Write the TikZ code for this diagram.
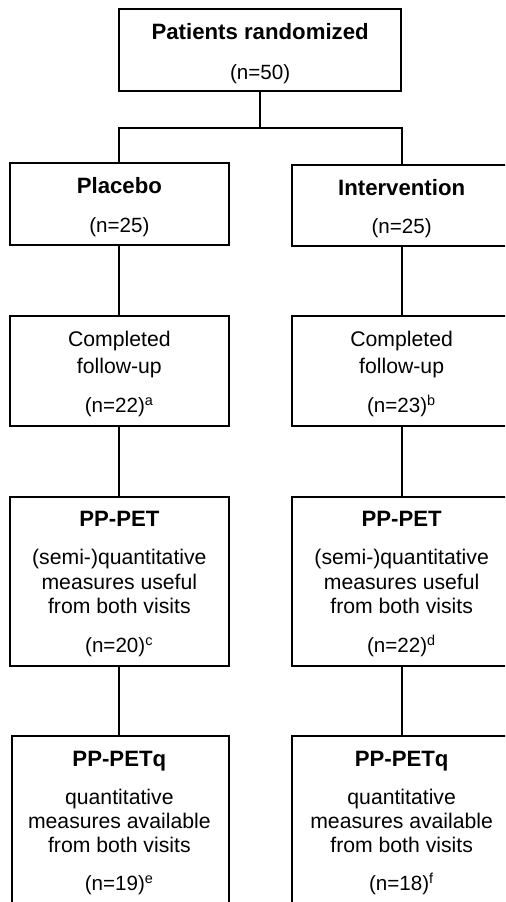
\documentclass[tikz,border=0pt]{standalone}
\usepackage{fontspec}
\setmainfont{Liberation Sans}
\begin{document}
\begin{tikzpicture}[x=0.5pt,y=-0.5pt,
  box/.style={draw, line width=1pt, inner sep=0pt, outer sep=0pt, anchor=north west, minimum width=109.35pt},
  ttl/.style={font=\fontsize{11.1pt}{13pt}\selectfont\bfseries, anchor=base, inner sep=0pt},
  txt/.style={font=\fontsize{10.6pt}{12pt}\selectfont, anchor=base, inner sep=0pt},
  nn/.style={font=\fontsize{10.3pt}{12pt}\selectfont, anchor=base, inner sep=0pt},
  conn/.style={line width=1pt}]
\useasboundingbox (0,0) rectangle (505,902);
\clip (0,0) rectangle (505,902);
% boxes
\node[box, minimum width=140.85pt, minimum height=40.85pt] (top) at (119.3,9) {};
\node[box, minimum height=41.15pt] (placebo) at (10,162.7) {};
\node[box, minimum height=40.75pt] (interv) at (292.3,164.5) {};
\node[box, minimum height=55pt] (compL) at (10,315.7) {};
\node[box, minimum height=55pt] (compR) at (292.3,315.7) {};
\node[box, minimum height=84.65pt] (petL) at (10,496.7) {};
\node[box, minimum height=84.5pt] (petR) at (292.3,497) {};
\node[box, minimum width=108.35pt, minimum height=90pt] (qL) at (12,735.7) {};
\node[box, minimum height=90pt] (qR) at (292.3,736) {};
% connectors
\coordinate (split) at (260.15,128);
\draw[conn] (top.south) -- (top.south |- split);
\draw[conn] (placebo.north) |- (split) -| (interv.north);
\draw[conn] (placebo.south) -- (compL.north);
\draw[conn] (interv.south) -- (compR.north);
\draw[conn] (compL.south) -- (petL.north);
\draw[conn] (compR.south) -- (petR.north);
\draw[conn] (petL.south) -- (petL.south |- qL.north);
\draw[conn] (petR.south) -- (qR.north);
% texts
\node[ttl] (t1) at (260.15,39.3) {Patients randomized};
\node[nn] (t2) at (260.15,79) {(n=50)};
\node[ttl] (t3) at (119.35,193.3) {Placebo};
\node[nn] (t4) at (119.35,232.3) {(n=25)};
\node[ttl] (t5) at (401.65,195) {Intervention};
\node[nn] (t6) at (401.65,233.3) {(n=25)};
\node[txt] (t7) at (119.35,346) {Completed};
\node[txt] (t8) at (119.35,373.3) {follow-up};
\node[nn] (t9) at (119.35,412.3) {(n=22)\textsuperscript{a}};
\node[txt] (t10) at (401.65,346) {Completed};
\node[txt] (t11) at (401.65,373.3) {follow-up};
\node[nn] (t12) at (401.65,412.3) {(n=23)\textsuperscript{b}};
\node[ttl] (t13) at (119.35,526.7) {PP-PET};
\node[txt] (t14) at (119.35,564) {(semi-)quantitative};
\node[txt] (t15) at (119.35,589.3) {measures useful};
\node[txt] (t16) at (119.35,613.3) {from both visits};
\node[nn] (t17) at (119.35,652.7) {(n=20)\textsuperscript{c}};
\node[ttl] (t18) at (401.65,526.7) {PP-PET};
\node[txt] (t19) at (401.65,564) {(semi-)quantitative};
\node[txt] (t20) at (401.65,589.3) {measures useful};
\node[txt] (t21) at (401.65,613.3) {from both visits};
\node[nn] (t22) at (401.65,652.7) {(n=22)\textsuperscript{d}};
\node[ttl] (t23) at (119.35,766) {PP-PETq};
\node[txt] (t24) at (119.35,804) {quantitative};
\node[txt] (t25) at (119.35,828.3) {measures available};
\node[txt] (t26) at (119.35,852.7) {from both visits};
\node[nn] (t27) at (119.35,890.7) {(n=19)\textsuperscript{e}};
\node[ttl] (t28) at (401.65,766) {PP-PETq};
\node[txt] (t29) at (401.65,804) {quantitative};
\node[txt] (t30) at (401.65,828.3) {measures available};
\node[txt] (t31) at (401.65,852.7) {from both visits};
\node[nn] (t32) at (401.65,890.7) {(n=18)\textsuperscript{f}};
\end{tikzpicture}
\end{document}
